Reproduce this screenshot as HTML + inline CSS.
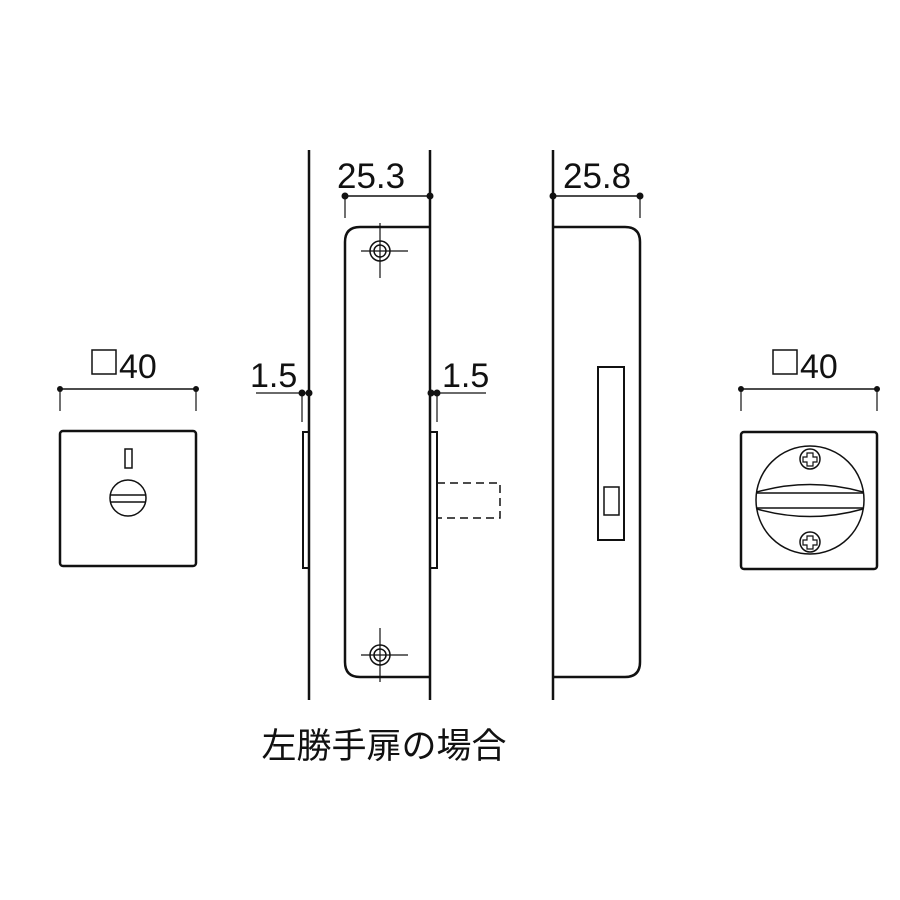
<!DOCTYPE html>
<html><head><meta charset="utf-8"><style>
html,body{margin:0;padding:0;background:#fff;}
svg{display:block;}
text{font-family:"Liberation Sans","Noto Sans CJK JP",sans-serif;fill:#111;}
</style></head><body>
<svg width="900" height="900" viewBox="0 0 900 900" xmlns="http://www.w3.org/2000/svg">
<g stroke="#111" fill="none" stroke-width="2">
<rect x="60" y="431" width="136" height="135" rx="3" stroke-width="2.5"/>
<rect x="125" y="449" width="7" height="19" stroke-width="1.5"/>
<circle cx="128" cy="498" r="18" stroke-width="1.5"/>
<line x1="110" y1="495" x2="146" y2="495" stroke-width="1.5"/>
<line x1="110" y1="502" x2="146" y2="502" stroke-width="1.5"/>
<line x1="60" y1="389" x2="196" y2="389" stroke-width="1.5"/>
<line x1="60" y1="389" x2="60" y2="411" stroke-width="1.2"/>
<line x1="196" y1="389" x2="196" y2="411" stroke-width="1.2"/>
<line x1="309" y1="150" x2="309" y2="700" stroke-width="2.5"/>
<line x1="430" y1="150" x2="430" y2="700" stroke-width="2.5"/>
<rect x="303" y="432" width="6" height="136" stroke-width="2"/>
<rect x="430" y="432" width="7" height="136" stroke-width="2"/>
<path d="M430 227 H360 Q345 227 345 242 V662 Q345 677 360 677 H430" stroke-width="2.5"/>
<circle cx="380" cy="251" r="10" stroke-width="1.5"/><circle cx="380" cy="251" r="6" stroke-width="1.5"/>
<line x1="361" y1="251" x2="408" y2="251" stroke-width="1.2"/><line x1="380" y1="223" x2="380" y2="278" stroke-width="1.2"/>
<circle cx="380" cy="655" r="10" stroke-width="1.5"/><circle cx="380" cy="655" r="6" stroke-width="1.5"/>
<line x1="361" y1="655" x2="408" y2="655" stroke-width="1.2"/><line x1="380" y1="628" x2="380" y2="682" stroke-width="1.2"/>
<line x1="345" y1="196" x2="430" y2="196" stroke-width="1.5"/>
<line x1="345" y1="196" x2="345" y2="218" stroke-width="1.2"/>
<line x1="256" y1="393" x2="309" y2="393" stroke-width="1.2"/>
<line x1="302" y1="393" x2="302" y2="422" stroke-width="1.2"/>
<line x1="430" y1="393" x2="486" y2="393" stroke-width="1.2"/>
<line x1="437" y1="393" x2="437" y2="422" stroke-width="1.2"/>
<path d="M437 483 H500 V518 H437" stroke-width="1.5" stroke-dasharray="8,5"/>
<line x1="553" y1="150" x2="553" y2="700" stroke-width="2.5"/>
<path d="M553 227 H625 Q640 227 640 242 V662 Q640 677 625 677 H553" stroke-width="2.5"/>
<rect x="598" y="367" width="26" height="173" stroke-width="2"/>
<rect x="604" y="487" width="15" height="28" stroke-width="1.5"/>
<line x1="553" y1="196" x2="640" y2="196" stroke-width="1.5"/>
<line x1="640" y1="196" x2="640" y2="218" stroke-width="1.2"/>
<rect x="741" y="432" width="136" height="137" rx="3" stroke-width="2.5"/>
<circle cx="810" cy="500" r="54" stroke-width="1.5"/>
<path d="M757 492 Q810 477 863 492" stroke-width="1.5"/>
<path d="M757 509 Q810 524 863 509" stroke-width="1.5"/>
<line x1="757" y1="493" x2="863" y2="493" stroke-width="1.5"/>
<line x1="757" y1="508" x2="863" y2="508" stroke-width="1.5"/>
<circle cx="810" cy="459" r="10" stroke-width="1.5"/>
<path d="M807 453h6v4h4v5h-4v4h-6v-4h-4v-5h4z" stroke-width="1.2"/>
<circle cx="810" cy="542" r="10" stroke-width="1.5"/>
<path d="M807 536h6v4h4v5h-4v4h-6v-4h-4v-5h4z" stroke-width="1.2"/>
<line x1="741" y1="389" x2="877" y2="389" stroke-width="1.5"/>
<line x1="741" y1="389" x2="741" y2="411" stroke-width="1.2"/>
<line x1="877" y1="389" x2="877" y2="411" stroke-width="1.2"/>
</g>
<g fill="#111">
<circle cx="60" cy="389" r="3"/><circle cx="196" cy="389" r="3"/>
<circle cx="345" cy="196" r="3.5"/><circle cx="430" cy="196" r="3.5"/>
<circle cx="553" cy="196" r="3.5"/><circle cx="640" cy="196" r="3.5"/>
<circle cx="302" cy="393" r="3.5"/><circle cx="309" cy="393" r="3.5"/>
<circle cx="431" cy="393" r="3.5"/><circle cx="437" cy="393" r="3.5"/>
<circle cx="741" cy="389" r="3"/><circle cx="877" cy="389" r="3"/>
</g>
<rect x="92" y="350" width="24" height="24" fill="none" stroke="#111" stroke-width="1.5"/>
<text x="119" y="378" font-size="34">40</text>
<rect x="773" y="350" width="24" height="24" fill="none" stroke="#111" stroke-width="1.5"/>
<text x="800" y="378" font-size="34">40</text>
<text x="337" y="188" font-size="35">25.3</text>
<text x="563" y="188" font-size="35">25.8</text>
<text x="250" y="387" font-size="34">1.5</text>
<text x="442" y="387" font-size="34">1.5</text>
<text x="384" y="758" font-size="35" text-anchor="middle">左勝手扉の場合</text>
</svg>
</body></html>
